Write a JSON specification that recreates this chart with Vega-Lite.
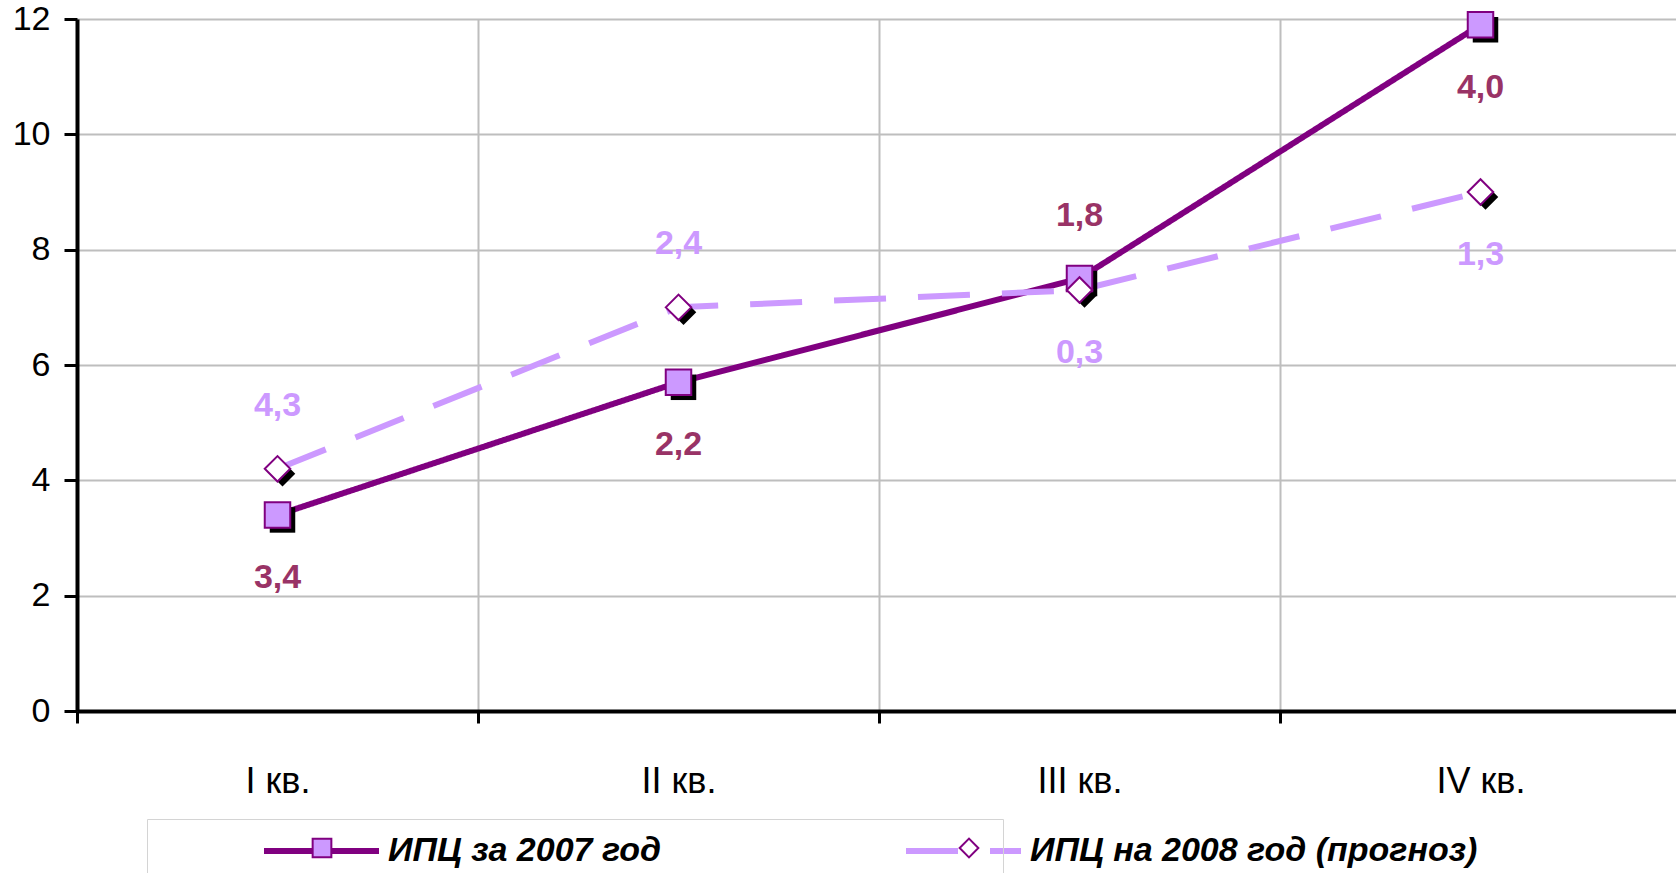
{
  "$schema": "https://vega.github.io/schema/vega-lite/v6.json",
  "autosize": "none",
  "width": 1599,
  "height": 692,
  "padding": {"left": 77, "top": 19, "right": 0, "bottom": 162},
  "background": "white",
  "config": {
    "view": {"stroke": null},
    "font": "Liberation Sans",
    "axis": {
      "labelFont": "Liberation Sans",
      "labelFontSize": 36,
      "labelColor": "#000000",
      "domainColor": "#000000",
      "domainWidth": 4,
      "tickColor": "#000000",
      "tickWidth": 3,
      "gridColor": "#BEBEBE",
      "gridWidth": 2,
      "title": null
    }
  },
  "data": {
    "values": [
      {"q": "I кв.", "series": "ИПЦ за 2007 год", "value": 3.4, "label": "3,4", "pos": "below"},
      {"q": "II кв.", "series": "ИПЦ за 2007 год", "value": 5.7, "label": "2,2", "pos": "below"},
      {"q": "III кв.", "series": "ИПЦ за 2007 год", "value": 7.5, "label": "1,8", "pos": "above"},
      {"q": "IV кв.", "series": "ИПЦ за 2007 год", "value": 11.9, "label": "4,0", "pos": "below"},
      {"q": "I кв.", "series": "ИПЦ на 2008 год (прогноз)", "value": 4.2, "label": "4,3", "pos": "above"},
      {"q": "II кв.", "series": "ИПЦ на 2008 год (прогноз)", "value": 7.0, "label": "2,4", "pos": "above"},
      {"q": "III кв.", "series": "ИПЦ на 2008 год (прогноз)", "value": 7.3, "label": "0,3", "pos": "below"},
      {"q": "IV кв.", "series": "ИПЦ на 2008 год (прогноз)", "value": 9.0, "label": "1,3", "pos": "below"}
    ]
  },
  "encoding": {
    "x": {
      "field": "q",
      "type": "nominal",
      "sort": ["I кв.", "II кв.", "III кв.", "IV кв."],
      "scale": {"paddingInner": 0, "paddingOuter": 0, "range": [0, 1604]},
      "axis": {
        "labelAngle": 0,
        "tickBand": "extent",
        "tickSize": 12,
        "labelPadding": 41,
        "grid": true
      }
    },
    "y": {
      "field": "value",
      "type": "quantitative",
      "scale": {"domain": [0, 12], "nice": false, "zero": true},
      "axis": {
        "values": [0, 2, 4, 6, 8, 10, 12],
        "tickSize": 13,
        "labelPadding": 14,
        "labelFontSize": 34,
        "grid": true
      }
    }
  },
  "layer": [
    {
      "mark": {"type": "line", "strokeWidth": 6},
      "encoding": {
        "color": {
          "field": "series",
          "type": "nominal",
          "scale": {"domain": ["ИПЦ за 2007 год", "ИПЦ на 2008 год (прогноз)"], "range": ["#800080", "#CC99FF"]},
          "legend": {
            "orient": "none",
            "legendX": 184,
            "legendY": 815,
            "direction": "horizontal",
            "columns": 2,
            "columnPadding": 241,
            "padding": 0,
            "title": null,
            "symbolType": "stroke",
            "symbolSize": 13225,
            "symbolStrokeWidth": 6,
            "clipHeight": 34,
            "labelFont": "Liberation Sans",
            "labelFontSize": 34,
            "labelFontWeight": "bold",
            "labelFontStyle": "italic",
            "labelColor": "#000000",
            "labelOffset": 6,
            "labelLimit": 1000
          }
        },
        "strokeDash": {
          "field": "series",
          "type": "nominal",
          "scale": {"domain": ["ИПЦ за 2007 год", "ИПЦ на 2008 год (прогноз)"], "range": [[1, 0], [52, 32]]}
        }
      }
    },
    {
      "transform": [{"filter": "datum.series === 'ИПЦ за 2007 год'"}],
      "mark": {"type": "point", "shape": "square", "filled": true, "size": 650, "color": "#000000", "opacity": 1, "xOffset": 5, "yOffset": 5}
    },
    {
      "transform": [{"filter": "datum.series === 'ИПЦ на 2008 год (прогноз)'"}],
      "mark": {"type": "point", "shape": "diamond", "filled": true, "size": 650, "color": "#000000", "opacity": 1, "xOffset": 5, "yOffset": 5}
    },
    {
      "mark": {"type": "point", "filled": true, "size": 650, "strokeWidth": 2, "opacity": 1},
      "encoding": {
        "shape": {
          "field": "series",
          "type": "nominal",
          "scale": {"range": ["square", "diamond"]},
          "legend": {
            "orient": "none",
            "legendX": 70,
            "legendY": 800,
            "direction": "horizontal",
            "columns": 2,
            "columnPadding": 464,
            "padding": 13,
            "strokeColor": "#D4D4D4",
            "title": null,
            "symbolSize": 350,
            "symbolOffset": 145,
            "symbolStrokeColor": "#800080",
            "symbolStrokeWidth": 2,
            "clipHeight": 32,
            "labelOpacity": 0,
            "labelFontSize": 34,
            "labelOffset": 4,
            "labelLimit": 1000,
            "labelExpr": "''",
            "encode": {
              "symbols": {
                "update": {
                  "stroke": {"value": "#800080"},
                  "strokeWidth": {"value": 2}
                }
              },
              "labels": {
                "update": {
                  "x": {"signal": "datum.index === 0 ? 180 : 786"}
                }
              }
            }
          }
        },
        "fill": {
          "field": "series",
          "type": "nominal",
          "scale": {"range": ["#CC99FF", "#FFFFFF"]}
        },
        "stroke": {
          "field": "series",
          "type": "nominal",
          "scale": {"range": ["#800080", "#800080"]}
        }
      }
    },
    {
      "transform": [{"filter": "datum.pos === 'above'"}],
      "mark": {"type": "text", "font": "Liberation Sans", "fontSize": 34, "fontWeight": "bold", "baseline": "middle", "dy": -63},
      "encoding": {
        "text": {"field": "label"},
        "color": {"condition": {"test": "datum.series === 'ИПЦ за 2007 год'", "value": "#993366"}, "value": "#CC99FF"}
      }
    },
    {
      "transform": [{"filter": "datum.pos === 'below'"}],
      "mark": {"type": "text", "font": "Liberation Sans", "fontSize": 34, "fontWeight": "bold", "baseline": "middle", "dy": 63},
      "encoding": {
        "text": {"field": "label"},
        "color": {"condition": {"test": "datum.series === 'ИПЦ за 2007 год'", "value": "#993366"}, "value": "#CC99FF"}
      }
    }
  ]
}
